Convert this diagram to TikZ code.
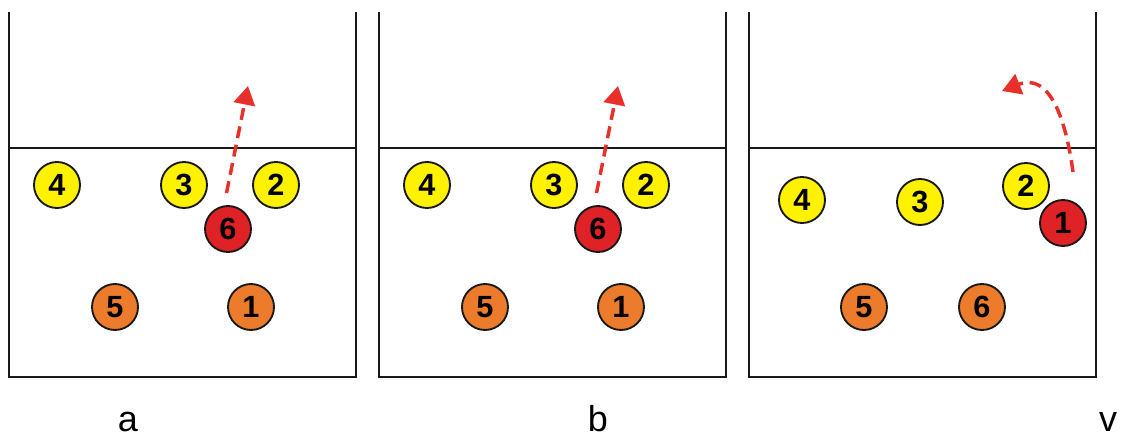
\documentclass[tikz,border=0pt]{standalone}
\usepackage{fontspec}
\setmainfont{Liberation Sans}
\usetikzlibrary{arrows.meta}
\definecolor{pyel}{RGB}{255,242,0}
\definecolor{pora}{RGB}{236,124,44}
\definecolor{pred}{RGB}{222,34,38}
\definecolor{parr}{RGB}{232,48,42}
\tikzset{
  court/.style={line width=1.6pt, black!90},
  player/.style={circle, draw=black!90, line width=1.4pt, minimum size=34.5pt, inner sep=0pt, font=\fontsize{23}{23}\selectfont\bfseries},
  yel/.style={player, fill=pyel},
  ora/.style={player, fill=pora},
  red/.style={player, fill=pred},
  move/.style={parr, line width=2.6pt, dash pattern=on 9pt off 5pt, -{Triangle[length=14pt,width=16pt]}},
  lab/.style={font=\fontsize{27}{27}\selectfont, anchor=base, inner sep=0pt}
}
\begin{document}
\begin{tikzpicture}[x=0.75pt,y=-0.75pt]
\useasboundingbox (0,0) rectangle (1122,437);
% panel a
\draw[court] (9,12) -- (9,377) -- (356,377) -- (356,12);
\draw[court] (9,148) -- (356,148);
\node[yel] (a4) at (57,185) {4};
\node[yel] (a3) at (184,185) {3};
\node[yel] (a2) at (276,185) {2};
\node[red] (a6) at (228,229) {6};
\node[ora] (a5) at (115,307) {5};
\node[ora] (a1) at (251,307) {1};
\coordinate (at) at (248,86);
\draw[move] (a6.north) ++(-1.5,-12) -- (at);
\node[lab] (la) at (128,431) {a};
% panel b
\draw[court] (379,12) -- (379,377) -- (726,377) -- (726,12);
\draw[court] (379,148) -- (726,148);
\node[yel] (b4) at (427,185) {4};
\node[yel] (b3) at (554,185) {3};
\node[yel] (b2) at (646,185) {2};
\node[red] (b6) at (598,229) {6};
\node[ora] (b5) at (485,307) {5};
\node[ora] (b1) at (621,307) {1};
\coordinate (bt) at (618,86);
\draw[move] (b6.north) ++(-1.5,-12) -- (bt);
\node[lab] (lb) at (598,431) {b};
% panel v
\draw[court] (749,12) -- (749,377) -- (1096,377) -- (1096,12);
\draw[court] (749,148) -- (1096,148);
\node[yel] (c4) at (802,200) {4};
\node[yel] (c3) at (920,202) {3};
\node[yel] (c2) at (1026,186) {2};
\node[red] (c1) at (1063,223) {1};
\node[ora] (c5) at (864,307) {5};
\node[ora] (c6) at (982,307) {6};
\coordinate (cs) at (1073,172);
\coordinate (ct) at (1002,91);
\draw[move] (cs) .. controls (1066,120) and (1050,72) .. (ct);
\node[lab] (lc) at (1108,431) {v};
\end{tikzpicture}
\end{document}
